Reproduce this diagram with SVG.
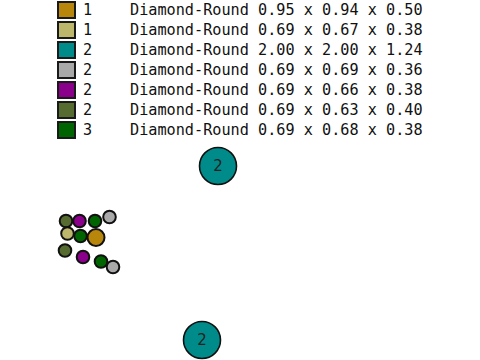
<svg xmlns="http://www.w3.org/2000/svg" width="480" height="360" viewBox="0 0 480 360">
<style>
.sw{stroke:#1a1a1a;stroke-width:2}
.t{font-family:"DejaVu Sans Mono",monospace;font-size:15.2px;fill:#111}
.n{stroke:#111;stroke-width:2}
.bn{stroke:#111;stroke-width:1.6}
.lb{font-family:"DejaVu Sans","Liberation Sans",sans-serif;font-size:15px;fill:#222;text-anchor:middle;dominant-baseline:central}
</style>
<rect width="480" height="360" fill="#fff"/>
<g id="legend">
<rect class="sw" x="58" y="2" width="17" height="16" fill="#B8860B"/>
<rect class="sw" x="58" y="22" width="17" height="16" fill="#BDB76B"/>
<rect class="sw" x="58" y="42" width="17" height="16" fill="#008B8B"/>
<rect class="sw" x="58" y="62" width="17" height="16" fill="#A9A9A9"/>
<rect class="sw" x="58" y="82" width="17" height="16" fill="#8B008B"/>
<rect class="sw" x="58" y="102" width="17" height="16" fill="#556B2F"/>
<rect class="sw" x="58" y="122" width="17" height="16" fill="#006400"/>
<text class="t" x="83" y="15">1</text>
<text class="t" x="83" y="35">1</text>
<text class="t" x="83" y="55">2</text>
<text class="t" x="83" y="75">2</text>
<text class="t" x="83" y="95">2</text>
<text class="t" x="83" y="115">2</text>
<text class="t" x="83" y="135">3</text>
<text class="t" x="130" y="15">Diamond-Round 0.95 x 0.94 x 0.50</text>
<text class="t" x="130" y="35">Diamond-Round 0.69 x 0.67 x 0.38</text>
<text class="t" x="130" y="55">Diamond-Round 2.00 x 2.00 x 1.24</text>
<text class="t" x="130" y="75">Diamond-Round 0.69 x 0.69 x 0.36</text>
<text class="t" x="130" y="95">Diamond-Round 0.69 x 0.66 x 0.38</text>
<text class="t" x="130" y="115">Diamond-Round 0.69 x 0.63 x 0.40</text>
<text class="t" x="130" y="135">Diamond-Round 0.69 x 0.68 x 0.38</text>
</g>
<g id="connectors"></g>
<g id="big1"><circle class="bn" cx="218" cy="166" r="18.5" fill="#008B8B"/><text class="lb" x="218" y="166">2</text></g>
<g id="big2"><circle class="bn" cx="202" cy="340" r="18.5" fill="#008B8B"/><text class="lb" x="202" y="340">2</text></g>
<g id="s1"><circle class="n" cx="66" cy="221" r="6.3" fill="#556B2F"/></g>
<g id="s2"><circle class="n" cx="79.5" cy="221" r="6.3" fill="#8B008B"/></g>
<g id="s3"><circle class="n" cx="95" cy="221" r="6.3" fill="#006400"/></g>
<g id="s4"><circle class="n" cx="109.5" cy="217" r="6.3" fill="#A9A9A9"/></g>
<g id="s5"><circle class="n" cx="67.5" cy="233.5" r="6.3" fill="#BDB76B"/></g>
<g id="s6"><circle class="n" cx="80.5" cy="236" r="6.3" fill="#006400"/></g>
<g id="s7"><circle class="n" cx="96" cy="237.5" r="8.5" fill="#B8860B"/></g>
<g id="s8"><circle class="n" cx="65" cy="250.5" r="6.3" fill="#556B2F"/></g>
<g id="s9"><circle class="n" cx="83" cy="257" r="6.3" fill="#8B008B"/></g>
<g id="s10"><circle class="n" cx="101" cy="261.5" r="6.3" fill="#006400"/></g>
<g id="s11"><circle class="n" cx="113" cy="267" r="6.3" fill="#A9A9A9"/></g>
</svg>
